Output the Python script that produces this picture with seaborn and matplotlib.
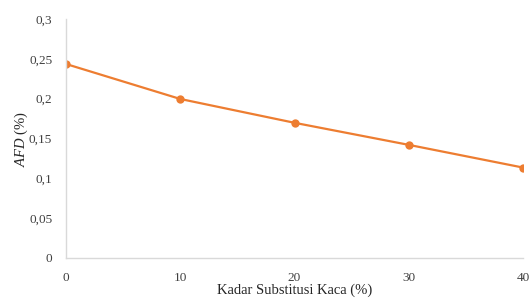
import matplotlib
matplotlib.use("Agg")
import matplotlib.pyplot as plt
import matplotlib.ticker as mticker
import pandas as pd
import seaborn as sns

# ── Data ──────────────────────────────────────────────────────────────────────
kadar_kaca = [0, 10, 20, 30, 40]
afd = [0.2435, 0.1996, 0.1697, 0.1420, 0.1135]
y_ticks = [0, 0.05, 0.1, 0.15, 0.2, 0.25, 0.3]

sns.set_theme(style="white")
plt.rcParams["font.family"] = ["Liberation Serif", "DejaVu Serif"]
plt.rcParams["mathtext.fontset"] = "custom"
plt.rcParams["mathtext.rm"] = "Liberation Serif"
plt.rcParams["mathtext.it"] = "Liberation Serif:italic"

df = pd.DataFrame({"x": kadar_kaca, "y": afd})

fig = plt.figure(figsize=(5.29, 3.01), dpi=100)
ax = fig.add_axes([0.1248, 0.1429, 0.8639, 0.794])

sns.lineplot(data=df, x="x", y="y", ax=ax, color="#ED7D31", linewidth=1.6,
             marker="o", markersize=6, markeredgewidth=0)

ax.set_xlim(0, 40)
ax.set_ylim(0, 0.3)
ax.set_xticks(kadar_kaca)
ax.set_yticks(y_ticks)


def comma_fmt(v, pos):
    s = f"{v:.2f}".rstrip("0").rstrip(".")
    return s.replace(".", ",")


ax.yaxis.set_major_formatter(mticker.FuncFormatter(comma_fmt))
ax.xaxis.set_major_formatter(mticker.FuncFormatter(lambda v, p: f"{int(v)}"))

ax.tick_params(axis="both", length=0, labelsize=9.5, colors="#404040")
ax.tick_params(axis="x", pad=10)
ax.tick_params(axis="y", pad=10)

for side in ["top", "right"]:
    ax.spines[side].set_visible(False)
for side in ["left", "bottom"]:
    ax.spines[side].set_color("#D9D9D9")
    ax.spines[side].set_linewidth(1.0)

ax.set_xlabel("Kadar Substitusi Kaca (%)", fontsize=10.5, color="#262626", labelpad=0)
ax.set_ylabel(r"$\mathit{AFD}$ (%)", fontsize=10.5, color="#262626", labelpad=-1)

fig.savefig("out.png", dpi=100)
